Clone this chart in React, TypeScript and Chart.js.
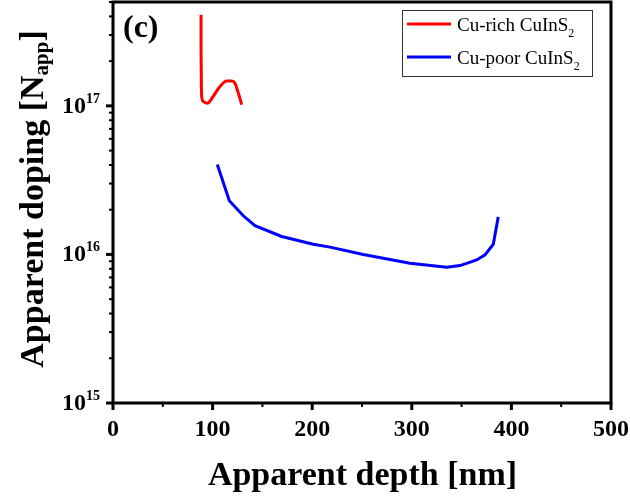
import React, { useEffect, useRef } from "react";
import { Chart, registerables } from "chart.js";

Chart.register(...registerables);

// Cu-rich CuInS2
const richDepth = [88.4, 88.4, 88.7, 89.0, 90.7, 94.7, 100.7, 107.4, 114.2, 119.2, 122.5, 125.8, 129.2];
const richDoping = [4.1e17, 2.38e17, 1.42e17, 1.16e17, 1.07e17, 1.04e17, 1.16e17, 1.35e17, 1.47e17, 1.47e17, 1.42e17, 1.22e17, 1.02e17];

// Cu-poor CuInS2
const poorDepth = [104.7, 116.8, 130.8, 142.6, 169.4, 201.1, 217.9, 251.3, 298.2, 335.0, 348.4, 365.2, 373.5, 381.8, 386.8];
const poorDoping = [4.03e16, 2.3e16, 1.82e16, 1.56e16, 1.32e16, 1.17e16, 1.12e16, 1.0e16, 8.73e15, 8.2e15, 8.41e15, 9.18e15, 9.93e15, 1.17e16, 1.79e16];

const xMajorTicks = [0, 100, 200, 300, 400, 500];
const xMinorTicks = [50, 150, 250, 350, 450];
const yExponents = [15, 16, 17];
const seriesNames = ["Cu-rich CuInS", "Cu-poor CuInS"];
const seriesColors = ["#ff0000", "#0000ff"];

const SERIF = '"Liberation Serif", "Times New Roman", serif';

const decorPlugin = {
  id: "decor",
  afterDraw(chart: any) {
    const ctx = chart.ctx as CanvasRenderingContext2D;
    const { left, right, top, bottom } = chart.chartArea;
    const xs = chart.scales.x;
    const ys = chart.scales.y;
    ctx.save();
    ctx.strokeStyle = "#000";
    ctx.fillStyle = "#000";

    // frame
    ctx.lineWidth = 3;
    ctx.strokeRect(left, top, right - left, bottom - top);

    // x ticks
    ctx.lineWidth = 3;
    xMajorTicks.forEach((v) => {
      const px = xs.getPixelForValue(v);
      ctx.beginPath();
      ctx.moveTo(px, bottom);
      ctx.lineTo(px, bottom + 7);
      ctx.stroke();
    });
    ctx.lineWidth = 2;
    xMinorTicks.forEach((v) => {
      const px = xs.getPixelForValue(v);
      ctx.beginPath();
      ctx.moveTo(px, bottom);
      ctx.lineTo(px, bottom + 4);
      ctx.stroke();
    });

    // y ticks
    const yMin = ys.min;
    const yMax = ys.max;
    for (let e = 15; e <= 17; e++) {
      for (let m = 1; m <= 9; m++) {
        const v = m * Math.pow(10, e);
        if (v < yMin * 0.999 || v > yMax * 1.001) continue;
        const py = ys.getPixelForValue(v);
        ctx.lineWidth = m === 1 ? 3 : 2;
        ctx.beginPath();
        ctx.moveTo(left - (m === 1 ? 7 : 4), py);
        ctx.lineTo(left, py);
        ctx.stroke();
      }
    }

    // x tick labels
    ctx.font = `bold 24px ${SERIF}`;
    ctx.textAlign = "center";
    ctx.textBaseline = "alphabetic";
    xMajorTicks.forEach((v) => {
      const px = xs.getPixelForValue(v);
      ctx.fillText(String(v), px, bottom + 33);
    });

    // y tick labels (10^n)
    yExponents.forEach((e) => {
      const py = ys.getPixelForValue(Math.pow(10, e));
      ctx.font = `bold 14px ${SERIF}`;
      const ew = ctx.measureText(String(e)).width;
      ctx.textAlign = "right";
      ctx.fillText(String(e), left - 13, py - 3);
      ctx.font = `bold 24px ${SERIF}`;
      ctx.fillText("10", left - 13 - ew, py + 7);
    });

    // x title
    ctx.font = `bold 34px ${SERIF}`;
    ctx.textAlign = "center";
    ctx.fillText("Apparent depth [nm]", (xs.getPixelForValue(0) + xs.getPixelForValue(500)) / 2 + 0.5, 485);

    // y title
    ctx.save();
    ctx.translate(43, 199);
    ctx.rotate(-Math.PI / 2);
    const mainFont = `bold 34px ${SERIF}`;
    const subFont = `bold 21px ${SERIF}`;
    ctx.font = mainFont;
    const p1 = "Apparent doping [N";
    const w1 = ctx.measureText(p1).width;
    const w3 = ctx.measureText("]").width;
    ctx.font = subFont;
    const w2 = ctx.measureText("app").width;
    const total = w1 + w2 + w3;
    let cx = -total / 2;
    ctx.textAlign = "left";
    ctx.font = mainFont;
    ctx.fillText(p1, cx, 0);
    cx += w1;
    ctx.font = subFont;
    ctx.fillText("app", cx, 5);
    cx += w2;
    ctx.font = mainFont;
    ctx.fillText("]", cx, 0);
    ctx.restore();

    // panel label
    ctx.font = `bold 32px ${SERIF}`;
    ctx.textAlign = "left";
    ctx.fillText("(c)", 123, 37);

    // legend
    const lx = 402.5, ly = 10.5, lw = 190, lh = 66;
    ctx.fillStyle = "#fff";
    ctx.fillRect(lx, ly, lw, lh);
    ctx.strokeStyle = "#333";
    ctx.lineWidth = 1;
    ctx.strokeRect(lx, ly, lw, lh);
    const rowsY = [24, 57];
    seriesNames.forEach((name, i) => {
      ctx.strokeStyle = seriesColors[i];
      ctx.lineWidth = 3;
      ctx.beginPath();
      ctx.moveTo(407, rowsY[i]);
      ctx.lineTo(451, rowsY[i]);
      ctx.stroke();
      ctx.fillStyle = "#000";
      ctx.font = `19px ${SERIF}`;
      ctx.textAlign = "left";
      ctx.textBaseline = "alphabetic";
      ctx.fillText(name, 457, rowsY[i] + 7);
      const nw = ctx.measureText(name).width;
      ctx.font = `12px ${SERIF}`;
      ctx.fillText("2", 457 + nw, rowsY[i] + 13);
    });

    ctx.restore();
  },
};

export default function App() {
  const canvasRef = useRef<HTMLCanvasElement | null>(null);

  useEffect(() => {
    document.body.style.margin = "0";
    const canvas = canvasRef.current;
    if (!canvas) return;
    const chart = new Chart(canvas, {
      type: "line",
      data: {
        datasets: [
          {
            label: seriesNames[0] + "2",
            data: richDepth.map((x, i) => ({ x, y: richDoping[i] })),
            borderColor: seriesColors[0],
            borderWidth: 3,
            pointRadius: 0,
            tension: 0.4,
            cubicInterpolationMode: "monotone",
            fill: false,
          },
          {
            label: seriesNames[1] + "2",
            data: poorDepth.map((x, i) => ({ x, y: poorDoping[i] })),
            borderColor: seriesColors[1],
            borderWidth: 3,
            pointRadius: 0,
            tension: 0,
            fill: false,
          },
        ],
      },
      options: {
        responsive: false,
        animation: false,
        devicePixelRatio: 1,
        layout: { padding: { top: 2, right: 19, left: 0, bottom: 0 } },
        plugins: { legend: { display: false }, tooltip: { enabled: false } },
        scales: {
          x: {
            type: "linear",
            min: 0,
            max: 500,
            grid: { display: false },
            border: { display: false },
            ticks: { display: false },
            afterFit: (s: any) => {
              s.height = 93;
            },
          },
          y: {
            type: "logarithmic",
            min: 1e15,
            max: 5e17,
            grid: { display: false },
            border: { display: false },
            ticks: { display: false },
            afterFit: (s: any) => {
              s.width = 113;
            },
          },
        },
      },
      plugins: [decorPlugin],
    } as any);
    return () => chart.destroy();
  }, []);

  return (
    <div style={{ width: 630, height: 496, background: "#fff" }}>
      <canvas ref={canvasRef} width={630} height={496} />
    </div>
  );
}
